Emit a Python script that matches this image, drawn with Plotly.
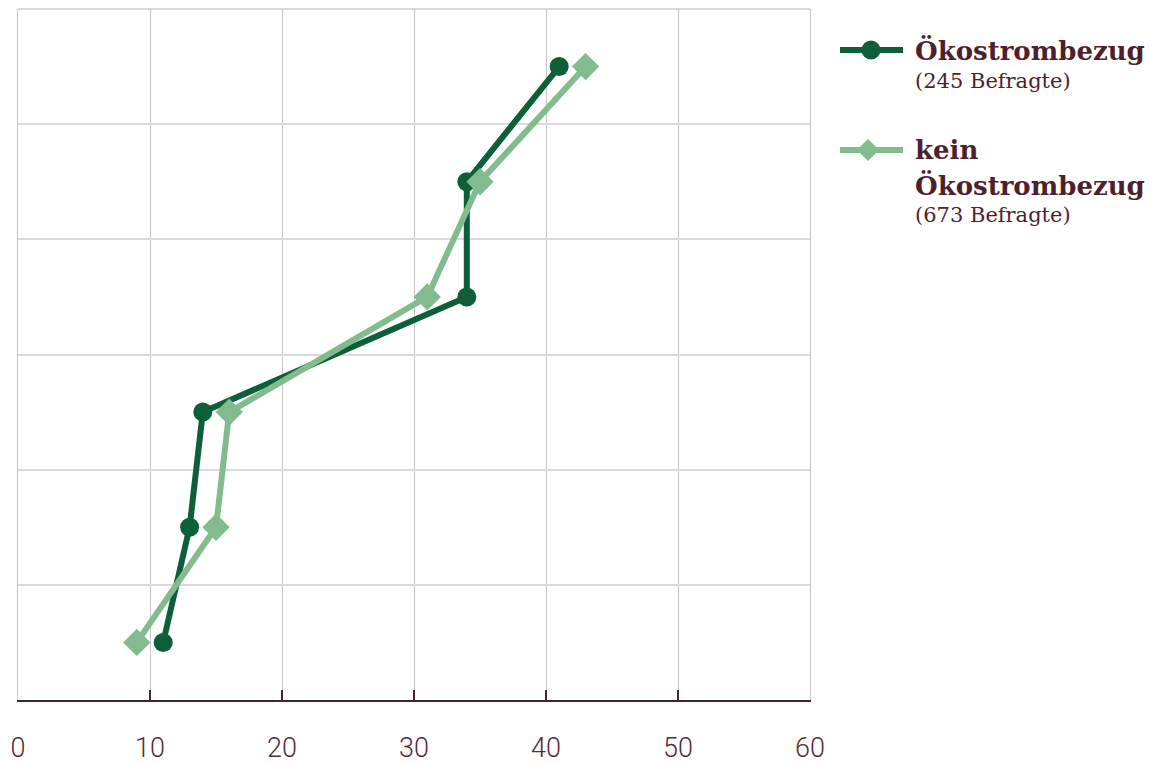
import plotly.graph_objects as go

rows = [0, 1, 2, 3, 4, 5]  # category bands, top to bottom
oeko = [41, 34, 34, 14, 13, 11]
kein_oeko = [43, 35, 31, 16, 15, 9]
x_ticks = [0, 10, 20, 30, 40, 50, 60]

series_names = ["Ökostrombezug", "kein Ökostrombezug"]
respondents = [245, 673]

DARK = "#0c5f39"
LIGHT = "#82bb8e"
MAROON = "#4e1f2e"
TICKCOL = "#5a2a3a"
GRID_V = "#c6c6c6"
GRID_H = "#dadada"

# plot area in page pixels (used for legend decoration placement only)
PL, PR, PT, PB = 18, 810, 9, 700


def px(xp):
    return (xp - PL) / (PR - PL)


def py(yp):
    return (PB - yp) / (PB - PT)


fig = go.Figure()
fig.add_trace(go.Scatter(
    x=oeko, y=rows, mode="lines+markers", name=series_names[0],
    line=dict(color=DARK, width=6),
    marker=dict(symbol="circle", size=19, color=DARK),
    showlegend=False,
))
fig.add_trace(go.Scatter(
    x=kein_oeko, y=rows, mode="lines+markers", name=series_names[1],
    line=dict(color=LIGHT, width=6),
    marker=dict(symbol="diamond", size=21, color=LIGHT),
    showlegend=False,
))

shapes = []
annotations = []

# top border of plot area
shapes.append(dict(type="line", xref="paper", yref="paper", x0=0, x1=1, y0=1, y1=1,
                   line=dict(color=GRID_H, width=2), layer="below"))


def legend_entry(y_sym, color, symbol, lines_bold, sub_text, y_lines, y_sub):
    shapes.append(dict(type="line", xref="paper", yref="paper",
                       x0=px(840), x1=px(903), y0=py(y_sym), y1=py(y_sym),
                       line=dict(color=color, width=6)))
    if symbol == "circle":
        shapes.append(dict(type="circle", xref="paper", yref="paper",
                           xsizemode="pixel", ysizemode="pixel",
                           xanchor=px(871), yanchor=py(y_sym),
                           x0=-9.5, x1=9.5, y0=-9.5, y1=9.5,
                           fillcolor=color, line=dict(width=0)))
    else:
        shapes.append(dict(type="path", xref="paper", yref="paper",
                           xsizemode="pixel", ysizemode="pixel",
                           xanchor=px(868), yanchor=py(y_sym),
                           path="M0,11 L11,0 L0,-11 L-11,0 Z",
                           fillcolor=color, line=dict(width=0)))
    for t, yy in zip(lines_bold, y_lines):
        annotations.append(dict(xref="paper", yref="paper", x=px(913), y=py(yy),
                                xanchor="left", yanchor="middle", showarrow=False,
                                text="<b>" + t + "</b>",
                                font=dict(family="DejaVu Serif", size=26, color=MAROON)))
    annotations.append(dict(xref="paper", yref="paper", x=px(913), y=py(y_sub),
                            xanchor="left", yanchor="middle", showarrow=False,
                            text=sub_text,
                            font=dict(family="DejaVu Serif", size=21, color=MAROON)))


legend_entry(50, DARK, "circle", [series_names[0]], f"({respondents[0]} Befragte)", [50], 81)
legend_entry(150, LIGHT, "diamond", ["kein", "Ökostrombezug"], f"({respondents[1]} Befragte)",
             [150, 186], 215)

fig.update_layout(
    width=1160, height=763,
    margin=dict(l=10, r=358, t=1, b=71, autoexpand=False),
    paper_bgcolor="white", plot_bgcolor="white",
    showlegend=False,
    shapes=shapes, annotations=annotations,
    xaxis=dict(
        range=[0, 60], tickvals=x_ticks, ticktext=[str(v) for v in x_ticks],
        showgrid=True, gridcolor=GRID_V, gridwidth=1,
        showline=True, linecolor=MAROON, linewidth=2,
        ticks="inside", ticklen=10, tickwidth=2, tickcolor=MAROON,
        tickfont=dict(family="Roboto", size=27, color=TICKCOL, weight=300),
        ticklabelstandoff=23, zeroline=False, automargin=False,
    ),
    yaxis=dict(
        range=[5.5, -0.5], tickvals=[0.5, 1.5, 2.5, 3.5, 4.5],
        showticklabels=False, showgrid=True, gridcolor=GRID_H, gridwidth=2,
        zeroline=False, showline=True, mirror=True, linecolor=GRID_V, linewidth=1,
        ticks="", automargin=False,
    ),
)

fig.write_html("out.html")
